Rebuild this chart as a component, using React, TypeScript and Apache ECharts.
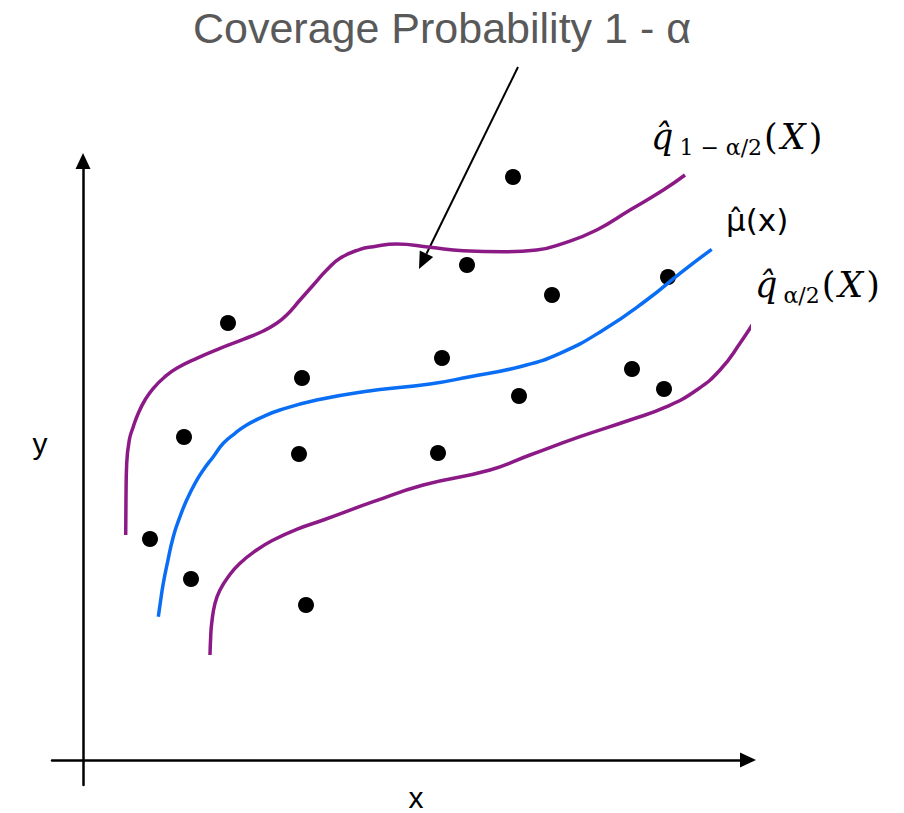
import React, { useEffect, useRef } from "react";
import * as echarts from "echarts";

// Curve of the upper quantile q̂_{1-α/2}(X)  [x, y]
const upperQuantile: [number, number][] = [
  [42.7, 225], [43, 263.3], [43.7, 296.7], [46.3, 320], [50.3, 333.3], [55.3, 346.7],
  [62, 360], [70.3, 371.7], [82, 383.3], [93.7, 391.7], [113.7, 401.7], [137, 411.7],
  [160.3, 420.7], [180.3, 429], [193.7, 436.7], [203.7, 445], [217, 460], [230.3, 475],
  [243.7, 490], [257, 501.7], [277, 510.7], [290.3, 513.3], [313.7, 516], [347, 512.7],
  [380.3, 509.3], [420.3, 508.3], [453.7, 510], [480.3, 516.7], [513.7, 530], [547, 550],
  [580.3, 570], [602, 585],
];

// Curve of the mean μ̂(x)
const meanCurve: [number, number][] = [
  [75.3, 143.3], [77.7, 160], [80.3, 176.7], [84.3, 196.7], [90.3, 223.3], [97, 243.3],
  [103.7, 260], [112, 276.7], [120.3, 290], [130.3, 303.3], [140.3, 316.7], [152, 326.7],
  [163.7, 335], [180.3, 343.3], [197, 350], [233.7, 360], [280.3, 368.3], [347, 376],
  [387, 383.3], [437, 393.3], [477, 406.7], [520.3, 430], [563.7, 460], [597, 486.7],
  [628.7, 510.7],
];

// Curve of the lower quantile q̂_{α/2}(X)
const lowerQuantile: [number, number][] = [
  [127, 105], [127.7, 123.3], [128.7, 136.7], [132, 156.7], [137, 170], [145.3, 183.3],
  [157, 196.7], [173.7, 210], [190.3, 220], [213.7, 230.7], [240.3, 240], [290.3, 258.3],
  [340.3, 275], [407, 290], [447, 305], [497, 323.3], [547, 340], [583.7, 353.3],
  [613.7, 370], [637, 390], [657, 416.7], [676.3, 446.7],
];

// Observations
const observations: [number, number][] = [
  [145, 437], [219, 382], [101, 323], [216, 306], [67, 221], [108, 181], [223, 155],
  [430, 583], [384, 495], [469, 465], [585, 483], [359, 402], [436, 364], [549, 391],
  [581, 371], [355, 307],
];

const titleText = "Coverage Probability 1 - α";
const xName = "x";
const yName = "y";

const PURPLE = "#8C1A86";
const BLUE = "#0A6EF5";

export default function App() {
  const ref = useRef<HTMLDivElement>(null);

  useEffect(() => {
    const chart = echarts.init(ref.current!, null, { renderer: "svg" });

    // annotation arrow geometry
    const sx = 518, sy = 67, tx = 419, ty = 269;
    const dx = tx - sx, dy = ty - sy;
    const len = Math.sqrt(dx * dx + dy * dy);
    const ux = dx / len, uy = dy / len;
    const head = 17, half = 7.5;
    const bx = tx - ux * head, by = ty - uy * head;
    const nx = -uy, ny = ux;

    const mathFont = "DejaVu Serif";
    const mainRich = {
      q: { fontFamily: mathFont, fontStyle: "italic", fontSize: 35, lineHeight: 42, color: "#000" },
      s: {
        fontFamily: mathFont, fontSize: 22, lineHeight: 18, verticalAlign: "bottom",
        color: "#000", padding: [0, 2, 0, 6],
      },
      p: { fontFamily: mathFont, fontSize: 35, lineHeight: 42, color: "#000" },
      i: {
        fontFamily: mathFont, fontStyle: "italic", fontSize: 35, lineHeight: 42,
        color: "#000", padding: [0, 3, 0, 3],
      },
    };

    const hiddenAxis = (min: number, max: number) => ({
      type: "value",
      min,
      max,
      axisLine: {
        show: true,
        onZero: true,
        symbol: ["none", "triangle"],
        symbolSize: [15, 16],
        lineStyle: { color: "#000", width: 2.5 },
      },
      axisTick: { show: false },
      axisLabel: { show: false },
      splitLine: { show: false },
    });

    const curve = (name: string, data: [number, number][], color: string) => ({
      name,
      type: "line",
      data,
      smooth: 0.5,
      symbol: "none",
      clip: false,
      lineStyle: { color, width: 3.5 },
    });

    chart.setOption({
      animation: false,
      grid: { left: 52, top: 161, width: 696, height: 624 },
      xAxis: hiddenAxis(-31, 665),
      yAxis: hiddenAxis(-25, 599),
      series: [
        curve("upper", upperQuantile, PURPLE),
        curve("mean", meanCurve, BLUE),
        curve("lower", lowerQuantile, PURPLE),
        {
          name: "obs",
          type: "scatter",
          data: observations,
          symbolSize: 16,
          itemStyle: { color: "#000", opacity: 1 },
          clip: false,
        },
      ],
      graphic: [
        {
          type: "text",
          x: 442,
          y: 28,
          style: {
            text: titleText,
            fontFamily: "Liberation Sans",
            fontSize: 43,
            fill: "#595959",
            textAlign: "center",
            textVerticalAlign: "middle",
          },
        },
        {
          type: "text",
          x: 40,
          y: 443,
          style: {
            text: yName,
            fontFamily: "Liberation Sans",
            fontSize: 30,
            fill: "#000",
            textAlign: "center",
            textVerticalAlign: "middle",
          },
        },
        {
          type: "text",
          x: 416,
          y: 797,
          style: {
            text: xName,
            fontFamily: "Liberation Sans",
            fontSize: 30,
            fill: "#000",
            textAlign: "center",
            textVerticalAlign: "middle",
          },
        },
        {
          type: "text",
          x: 651,
          y: 116,
          style: {
            text: "{q|q\u0302}{s|1 − α/2}{p|(}{i|X}{p|)}",
            rich: mainRich,
            textAlign: "left",
            textVerticalAlign: "top",
          },
        },
        {
          type: "text",
          x: 726,
          y: 204,
          style: {
            text: "μ\u0302(x)",
            fontFamily: "DejaVu Sans",
            fontSize: 31,
            fill: "#000",
            textAlign: "left",
            textVerticalAlign: "top",
          },
        },
        {
          type: "text",
          x: 755,
          y: 264,
          style: {
            text: "{q|q\u0302}{s|α/2}{p|(}{i|X}{p|)}",
            rich: mainRich,
            textAlign: "left",
            textVerticalAlign: "top",
          },
        },
        {
          type: "line",
          shape: { x1: sx, y1: sy, x2: bx, y2: by },
          style: { stroke: "#000", lineWidth: 2 },
        },
        {
          type: "polygon",
          shape: {
            points: [
              [tx, ty],
              [bx + nx * half, by + ny * half],
              [bx - nx * half, by - ny * half],
            ],
          },
          style: { fill: "#000" },
        },
      ],
    });

    return () => chart.dispose();
  }, []);

  return (
    <div
      ref={ref}
      style={{ position: "absolute", left: 0, top: 0, width: 904, height: 813 }}
    />
  );
}
